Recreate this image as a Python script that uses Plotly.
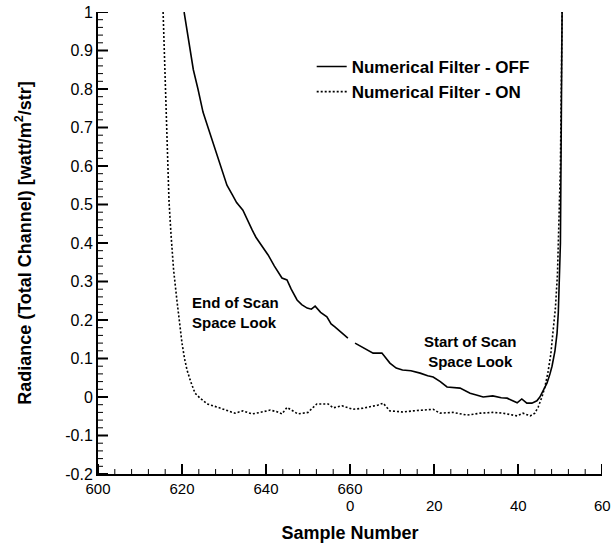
import plotly.graph_objects as go

# Numerical Filter - OFF (solid)
off_x = [620.5, 621.2, 621.9, 622.7, 623.8, 625.0, 626.2, 627.4, 628.6, 629.8, 630.7, 632.0, 633.0,
         634.5, 635.5, 636.7, 637.6, 638.6, 640.5, 642.0, 643.8, 645.0, 646.0, 647.4, 648.5, 649.8,
         650.8, 651.7, 653.0, 654.5, 655.5, 656.4, 657.8, 659.5, None,
         661.2, 663.0, 664.5, 665.5, 667.6, 669.5, 671.0, 672.5, 674.5, 676.7, 678.5, 679.8, 681.5,
         683.1, 686.2, 688.6, 690.5, 691.7, 694.0, 696.0, 697.4, 699.0, 699.8, 700.9, 702.1, 703.3,
         704.5, 705.2, 706.2, 706.9, 707.6, 708.1, 708.8, 709.3, 709.6, 709.9, 710.1, 710.2, 710.35, 710.5]
off_y = [1.00, 0.95, 0.90, 0.85, 0.80, 0.74, 0.70, 0.66, 0.615, 0.575, 0.55, 0.525, 0.505,
         0.485, 0.46, 0.434, 0.415, 0.40, 0.369, 0.34, 0.309, 0.304, 0.28, 0.252, 0.24, 0.231,
         0.228, 0.236, 0.22, 0.208, 0.19, 0.182, 0.17, 0.153, None,
         0.140, 0.130, 0.120, 0.114, 0.114, 0.088, 0.075, 0.070, 0.068, 0.062, 0.055, 0.052, 0.040,
         0.026, 0.023, 0.010, 0.004, 0.0, 0.003, -0.002, -0.003, -0.010, -0.015, -0.005, -0.016, -0.016,
         -0.010, 0.0, 0.020, 0.036, 0.060, 0.080, 0.120, 0.166, 0.22, 0.30, 0.40, 0.55, 0.75, 1.00]

# Numerical Filter - ON (dotted)
on_x = [615.5, 615.8, 616.1, 616.4, 616.7, 616.9, 617.4, 618.0, 618.8, 619.4, 620.0, 620.6, 621.2,
        622.1, 623.1, 624.3, 626.0, 628.3, 630.7, 632.6, 634.5, 636.7, 638.6, 641.0, 642.5, 643.8,
        645.0, 646.5, 647.6, 650.0, 652.1, 654.8, 656.0, 658.1, 660.7, 663.1, 664.8, 666.7, 667.9,
        669.5, 672.6, 675.0, 679.8, 681.4, 684.5, 687.9, 691.0, 694.0, 696.4, 699.8, 701.2, 702.9,
        704.0, 704.8, 705.7, 706.4, 707.1, 707.8, 708.3, 708.9, 709.4, 709.8, 710.1, 710.3, 710.5]
on_y = [1.00, 0.90, 0.80, 0.70, 0.60, 0.51, 0.42, 0.33, 0.25, 0.19, 0.14, 0.10, 0.07,
        0.039, 0.010, -0.003, -0.018, -0.026, -0.036, -0.042, -0.036, -0.044, -0.040, -0.034, -0.038, -0.044,
        -0.027, -0.038, -0.044, -0.040, -0.018, -0.018, -0.028, -0.023, -0.032, -0.029, -0.026, -0.021, -0.016,
        -0.036, -0.039, -0.036, -0.032, -0.042, -0.040, -0.047, -0.042, -0.040, -0.042, -0.049, -0.042, -0.049,
        -0.042, -0.026, 0.0, 0.026, 0.062, 0.11, 0.166, 0.23, 0.32, 0.45, 0.60, 0.80, 1.00]

# tick labels: first row (end-of-scan sample numbers), second row (next-scan sample numbers)
x_label_alias = {"680": "", "700": "", "720": ""}
row2_vals = [660, 680, 700, 720]
row2_text = ["0", "20", "40", "60"]
y_label_alias = {"\u22120.1": "-0.1", "\u22120.2": "-0.2"}

X_RANGE = [600, 720]
Y_RANGE = [-0.2, 1.0]
X_MAJOR, X_MINOR = 20, 4
Y_MAJOR, Y_MINOR = 0.1, 0.02
FONT = "Liberation Sans, Arial, Helvetica, sans-serif"

W, H = 612, 546
M = dict(l=98, r=10, t=12, b=72)
PLOT_W = W - M["l"] - M["r"]
PLOT_H = H - M["t"] - M["b"]

n_x = int(round((X_RANGE[1] - X_RANGE[0]) / X_MINOR))
n_y = int(round((Y_RANGE[1] - Y_RANGE[0]) / Y_MINOR))
x_ticks = [(X_RANGE[0] + i * X_MINOR, i % (X_MAJOR // X_MINOR) == 0) for i in range(n_x + 1)]
y_ticks = [(round(Y_RANGE[0] + i * Y_MINOR, 3), i % 5 == 0) for i in range(n_y + 1)]

fig = go.Figure()
fig.add_trace(go.Scatter(x=off_x, y=off_y, mode="lines", name="Numerical Filter - OFF",
                         line=dict(color="black", width=1.6), connectgaps=False))
fig.add_trace(go.Scatter(x=on_x, y=on_y, mode="lines", name="Numerical Filter - ON",
                         line=dict(color="black", width=1.6, dash="2px,2px")))

# inward tick marks drawn as shapes (major 10 px, minor 5 px)
shapes = []
for v, major in x_ticks:
    ln = (10 if major else 5) / PLOT_H
    shapes.append(dict(type="line", xref="x", yref="paper", x0=v, x1=v, y0=0, y1=ln,
                       line=dict(color="black", width=2 if major else 1), layer="above"))
for v, major in y_ticks:
    ln = (10 if major else 5) / PLOT_W
    shapes.append(dict(type="line", xref="paper", yref="y", x0=0, x1=ln, y0=v, y1=v,
                       line=dict(color="black", width=2 if major else 1), layer="above"))

annotations = [
    dict(x=621.9, y=0.22, xref="x", yref="y", text="End of Scan<br>Space Look",
         showarrow=False, xanchor="left", yanchor="middle", align="left",
         font=dict(size=15, weight="bold")),
    dict(x=688.8, y=0.117, xref="x", yref="y", text="Start of Scan<br>Space Look",
         showarrow=False, xanchor="center", yanchor="middle", align="center",
         font=dict(size=15, weight="bold")),
]
for v, t in zip(row2_vals, row2_text):
    annotations.append(dict(x=v, y=0, xref="x", yref="paper", text=t, showarrow=False,
                            xanchor="center", yanchor="middle", yshift=-31,
                            font=dict(size=15)))

fig.update_layout(
    width=W, height=H, autosize=False,
    margin=dict(**M, autoexpand=False),
    paper_bgcolor="white", plot_bgcolor="white",
    font=dict(family=FONT, color="black", size=16),
    showlegend=True,
    legend=dict(x=0.424, y=0.92, xanchor="left", yanchor="top", bgcolor="rgba(0,0,0,0)",
                font=dict(family=FONT, size=17, weight="bold"), tracegroupgap=0),
    xaxis=dict(range=X_RANGE, dtick=X_MAJOR, tick0=X_RANGE[0], labelalias=x_label_alias,
               ticks="", showline=True, linewidth=2, linecolor="black",
               showgrid=False, zeroline=False, tickfont=dict(size=15),
               title=dict(text="Sample Number", font=dict(size=18, weight="bold"), standoff=30)),
    yaxis=dict(range=Y_RANGE, dtick=Y_MAJOR, tick0=0, labelalias=y_label_alias,
               ticks="", showline=True, linewidth=2, linecolor="black",
               showgrid=False, zeroline=False, tickfont=dict(size=16),
               title=dict(text="Radiance (Total Channel) [watt/m<sup>2</sup>/str]",
                          font=dict(size=18, weight="bold"), standoff=29)),
    shapes=shapes,
    annotations=annotations,
)

fig.write_html("out.html")
